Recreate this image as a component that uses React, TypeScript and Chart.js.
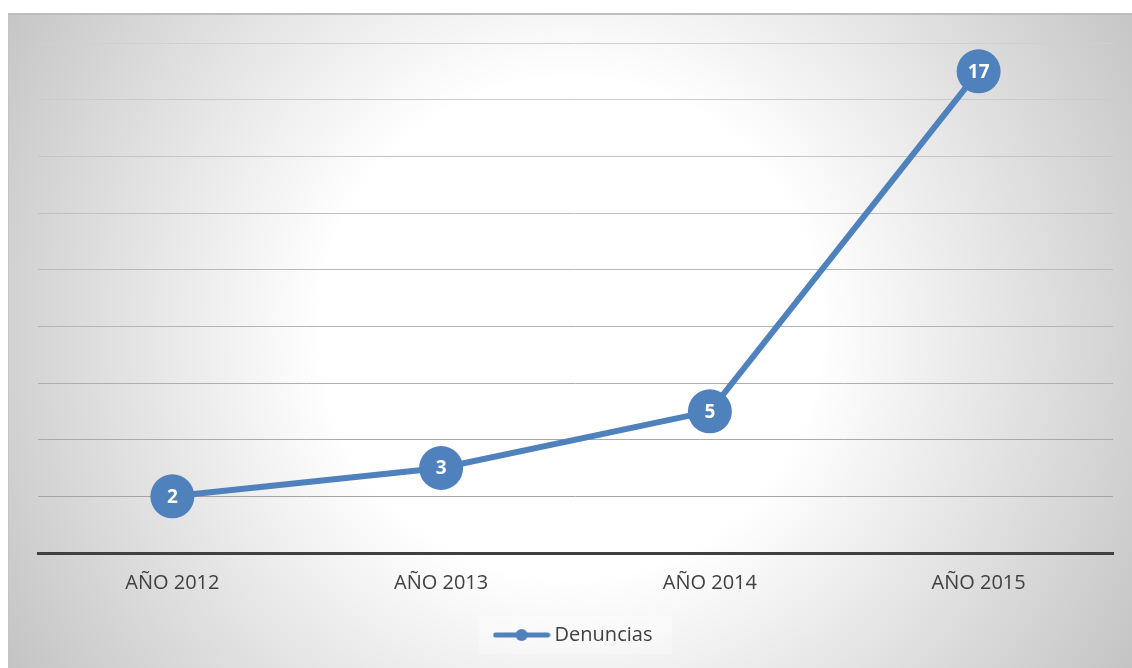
import React, { useEffect, useRef } from "react";
import { Chart, registerables } from "chart.js";

Chart.register(...registerables);

const categories = ["AÑO 2012", "AÑO 2013", "AÑO 2014", "AÑO 2015"];
const denuncias = [2, 3, 5, 17];
const seriesName = "Denuncias";
const yMin = 0;
const yMax = 18;
const yStep = 2;

const BLUE = "#4f81bd";
const FONT = "'Open Sans', 'Liberation Sans', sans-serif";

function makeLegendIcon(): HTMLCanvasElement {
  const c = document.createElement("canvas");
  c.width = 58;
  c.height = 14;
  const g = c.getContext("2d")!;
  g.strokeStyle = BLUE;
  g.lineWidth = 5;
  g.lineCap = "round";
  g.beginPath();
  g.moveTo(3, 7);
  g.lineTo(55, 7);
  g.stroke();
  g.fillStyle = BLUE;
  g.beginPath();
  g.arc(29, 7, 6, 0, Math.PI * 2);
  g.fill();
  return c;
}

const dataLabelPlugin = {
  id: "dataLabels",
  afterDatasetsDraw(chart: any) {
    const ctx = chart.ctx;
    chart.data.datasets.forEach((ds: any, i: number) => {
      const meta = chart.getDatasetMeta(i);
      meta.data.forEach((el: any, j: number) => {
        ctx.save();
        ctx.fillStyle = "#ffffff";
        ctx.font = `bold 19px ${FONT}`;
        ctx.textAlign = "center";
        ctx.textBaseline = "middle";
        ctx.fillText(String(ds.data[j]), el.x, el.y + 1);
        ctx.restore();
      });
    });
  },
};

const legendBoxPlugin = {
  id: "legendBox",
  beforeDraw(chart: any) {
    const lg = chart.legend;
    if (!lg || !lg.legendHitBoxes || !lg.legendHitBoxes.length) return;
    const hb = lg.legendHitBoxes[0];
    const ctx = chart.ctx;
    ctx.save();
    ctx.fillStyle = "rgba(255,255,255,0.3)";
    ctx.fillRect(hb.left - 20, hb.top - 9, hb.width + 40, hb.height + 18);
    ctx.restore();
  },
};

export default function App() {
  const ref = useRef<HTMLCanvasElement | null>(null);
  useEffect(() => {
    if (!ref.current) return;
    const icon = makeLegendIcon();
    const chart = new Chart(ref.current, {
      type: "line",
      data: {
        labels: categories,
        datasets: [
          {
            label: seriesName,
            data: denuncias,
            borderColor: BLUE,
            backgroundColor: BLUE,
            borderWidth: 6,
            pointRadius: 22,
            pointBackgroundColor: BLUE,
            pointBorderWidth: 0,
            pointHoverRadius: 22,
            tension: 0,
            clip: false as any,
          },
        ],
      },
      options: {
        animation: false,
        responsive: true,
        maintainAspectRatio: false,
        layout: {
          autoPadding: false,
          padding: { left: 29, right: 19, top: 28, bottom: 13 },
        } as any,
        scales: {
          x: {
            offset: true,
            grid: { display: false, drawTicks: false },
            border: { display: true, color: "#404040", width: 3 },
            ticks: {
              color: "#404040",
              font: { family: FONT, size: 20 },
              padding: 18,
            },
          },
          y: {
            min: yMin,
            max: yMax,
            ticks: { display: false, stepSize: yStep },
            border: { display: false },
            grid: {
              drawTicks: false,
              lineWidth: 1,
              color: (c: any) => {
                const v = c.tick ? c.tick.value : 0;
                const g = Math.round(164 + ((v - 2) / 16) * (208 - 164));
                return `rgb(${g},${g},${g})`;
              },
            },
          },
        },
        plugins: {
          legend: {
            position: "bottom",
            labels: {
              color: "#404040",
              font: { family: FONT, size: 20 },
              usePointStyle: true,
              pointStyleWidth: 46,
              padding: 12,
              generateLabels: (ch: any) => {
                const items = Chart.defaults.plugins.legend.labels.generateLabels(ch);
                return items.map((it: any) => ({ ...it, pointStyle: icon }));
              },
            },
          },
          tooltip: { enabled: false },
        },
      },
      plugins: [dataLabelPlugin, legendBoxPlugin],
    });
    return () => chart.destroy();
  }, []);

  return (
    <div
      style={{
        position: "absolute",
        left: 8,
        top: 13,
        width: 1124,
        height: 655,
        boxSizing: "border-box",
        borderTop: "2px solid #bdbdbd",
        borderLeft: "1px solid #c4c4c4",
        background:
          "radial-gradient(circle farthest-corner at 50% 48%, #ffffff 0%, #ffffff 38%, #c4c4c4 100%)",
      }}
    >
      <div style={{ position: "relative", width: 1123, height: 653 }}>
        <canvas ref={ref} />
      </div>
    </div>
  );
}
